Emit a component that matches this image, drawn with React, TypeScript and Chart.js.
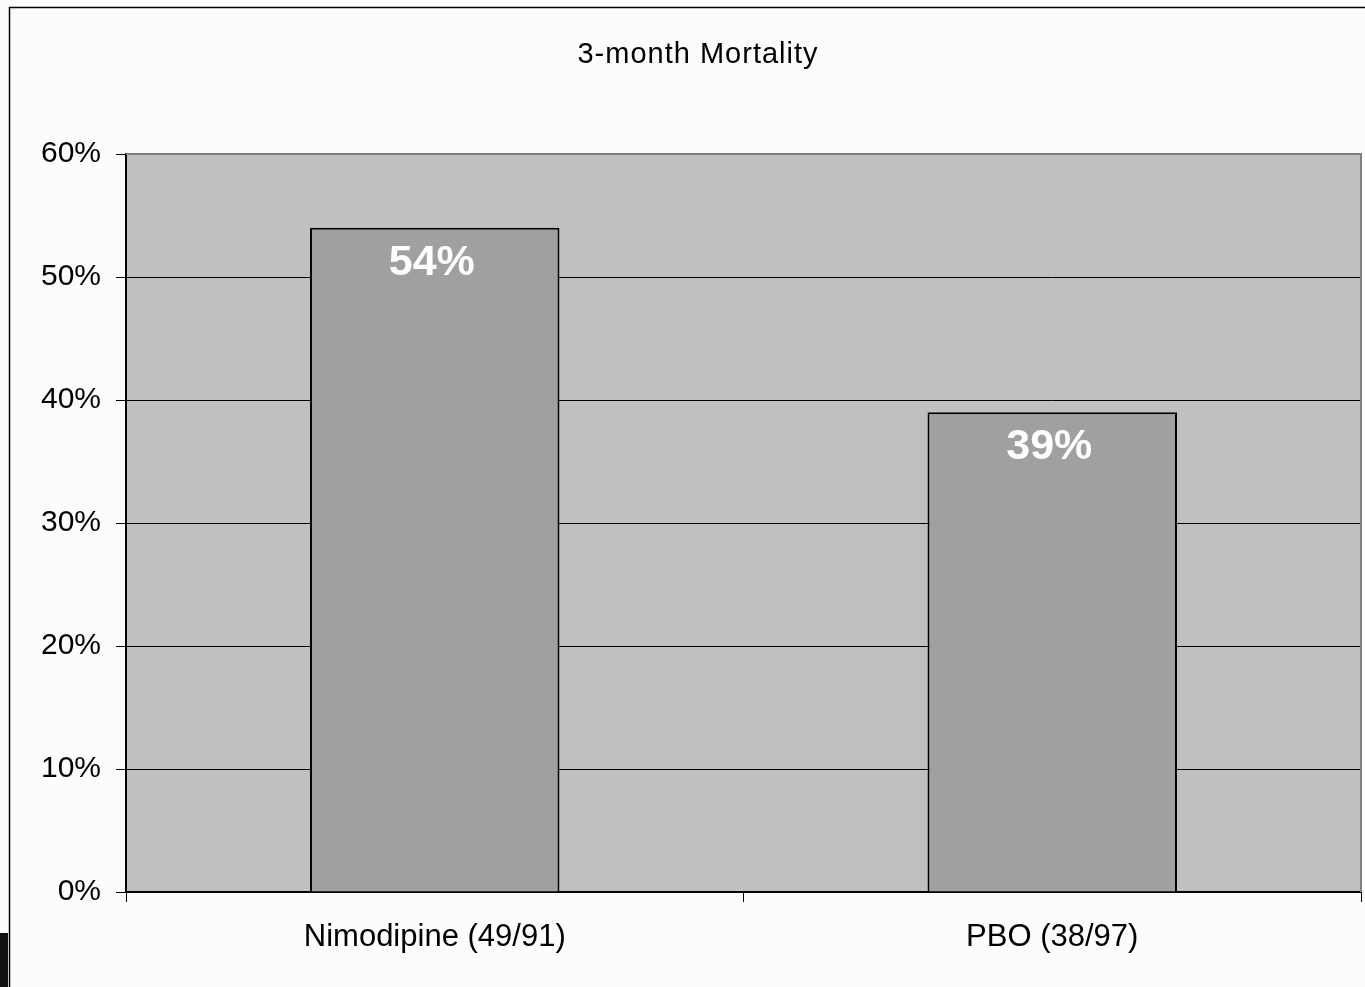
import React, { useEffect, useRef } from "react";
import { Chart, registerables } from "chart.js";

Chart.register(...registerables);

const titleText = "3-month Mortality";
const categories = ["Nimodipine (49/91)", "PBO (38/97)"];
const mortality = [54, 39];
const valueLabels = ["54%", "39%"];
const yMin = 0;
const yMax = 60;
const yStep = 10;

const FONT = '"Liberation Sans", Arial, sans-serif';

const decorPlugin = {
  id: "decor",
  beforeDraw(chart: any) {
    const { ctx, chartArea, width, height } = chart;
    ctx.save();
    ctx.fillStyle = "#fcfcfc";
    ctx.fillRect(0, 0, width, height);
    // outer frame
    ctx.strokeStyle = "#000000";
    ctx.lineWidth = 1.5;
    ctx.beginPath();
    ctx.moveTo(9.5, height);
    ctx.lineTo(9.5, 7.5);
    ctx.lineTo(width, 7.5);
    ctx.stroke();
    // corner artifact
    ctx.fillStyle = "#111111";
    ctx.fillRect(0, 933, 8, 54);
    // plot background
    ctx.fillStyle = "#c0c0c0";
    ctx.fillRect(chartArea.left, chartArea.top, chartArea.right - chartArea.left, chartArea.bottom - chartArea.top);
    ctx.restore();
  },
  afterDatasetsDraw(chart: any) {
    const { ctx, chartArea } = chart;
    ctx.save();
    // plot border top/right
    ctx.strokeStyle = "#808080";
    ctx.lineWidth = 2;
    ctx.beginPath();
    ctx.moveTo(chartArea.left, chartArea.top);
    ctx.lineTo(chartArea.right, chartArea.top);
    ctx.lineTo(chartArea.right, chartArea.bottom);
    ctx.stroke();
    // value labels
    const meta = chart.getDatasetMeta(0);
    ctx.fillStyle = "#ffffff";
    ctx.font = `bold 43px ${FONT}`;
    ctx.textAlign = "center";
    ctx.textBaseline = "middle";
    meta.data.forEach((bar: any, i: number) => {
      ctx.fillText(valueLabels[i], bar.x - 3, bar.y + 35);
    });
    // title
    ctx.fillStyle = "#000000";
    ctx.font = `29px ${FONT}`;
    ctx.textBaseline = "alphabetic";
    ctx.textAlign = "center";
    try {
      (ctx as any).letterSpacing = "1px";
    } catch (e) {}
    ctx.fillText(titleText, 698, 63);
    ctx.restore();
  },
};

export default function App() {
  const ref = useRef<HTMLCanvasElement | null>(null);
  useEffect(() => {
    if (!ref.current) return;
    const chart = new Chart(ref.current, {
      type: "bar",
      data: {
        labels: categories,
        datasets: [
          {
            data: mortality,
            backgroundColor: "#a0a0a0",
            borderColor: "#000000",
            borderWidth: 2,
            categoryPercentage: 0.8,
            barPercentage: 0.505,
          },
        ],
      },
      options: {
        animation: false,
        responsive: false,
        maintainAspectRatio: false,
        layout: { padding: { top: 154, right: 4, bottom: 0, left: 0 } },
        plugins: {
          legend: { display: false },
          title: { display: false },
          tooltip: { enabled: false },
        },
        scales: {
          x: {
            offset: true,
            grid: {
              offset: true,
              drawOnChartArea: false,
              drawTicks: true,
              tickLength: 10,
              color: "#000000",
              lineWidth: 1,
            },
            border: { display: true, color: "#000000", width: 2 },
            ticks: {
              color: "#000000",
              font: { family: FONT, size: 31 },
              padding: 17,
              maxRotation: 0,
            },
            afterFit: (s: any) => {
              s.height = 95;
            },
          },
          y: {
            min: yMin,
            max: yMax,
            grid: {
              color: "#000000",
              lineWidth: 1,
              tickLength: 10,
              drawTicks: true,
            },
            border: { display: true, color: "#000000", width: 2 },
            ticks: {
              stepSize: yStep,
              color: "#000000",
              font: { family: FONT, size: 30 },
              padding: 15,
              callback: (v: any) => `${v}%`,
            },
            afterFit: (s: any) => {
              s.width = 126;
            },
          },
        },
      },
      plugins: [decorPlugin],
    });
    return () => chart.destroy();
  }, []);
  return (
    <div style={{ position: "absolute", left: 0, top: 0, width: 1365, height: 987, overflow: "hidden" }}>
      <canvas ref={ref} width={1365} height={987} style={{ width: 1365, height: 987, display: "block" }} />
    </div>
  );
}
